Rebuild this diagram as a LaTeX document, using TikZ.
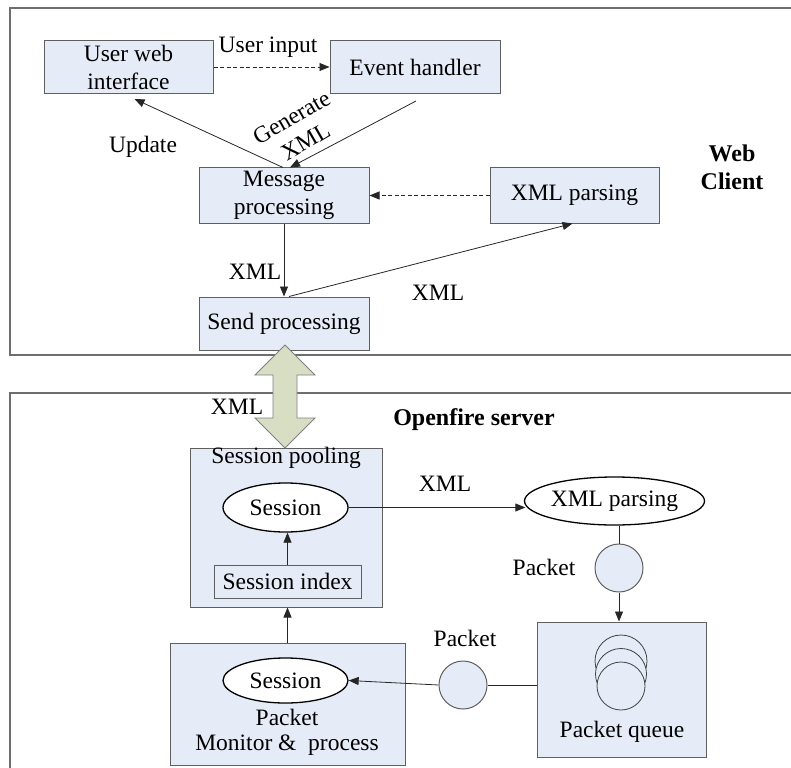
\documentclass[tikz,border=0pt]{standalone}
\usepackage{fontspec}
\setmainfont{Liberation Serif}
\usetikzlibrary{arrows.meta,shapes.geometric,calc}
\definecolor{boxblue}{RGB}{230,236,247}
\definecolor{fatgreen}{RGB}{216,222,196}
\definecolor{edgegray}{RGB}{95,95,95}
\definecolor{framegray}{RGB}{110,110,110}
\begin{document}
\begin{tikzpicture}[x=1pt,y=-1pt,
  font=\fontsize{23.5}{28}\selectfont,
  frame/.style={draw=framegray, line width=1.6pt},
  blk/.style={draw=edgegray, fill=boxblue, line width=1pt, align=center, inner sep=0pt},
  oval/.style={ellipse, draw=black, fill=white, line width=1.3pt, inner sep=0pt},
  pkt/.style={circle, draw=edgegray, fill=boxblue, line width=1pt, inner sep=0pt, minimum size=48pt},
  lbl/.style={inner sep=0pt, align=center},
  bold/.style={inner sep=0pt, align=center, font=\fontsize{24}{28}\selectfont\bfseries},
  arr/.style={draw=black!85, line width=0.8pt, -{Triangle[length=10pt,width=8pt]}},
  ln/.style={draw=black!85, line width=0.8pt},
  dsh/.style={arr, dashed, dash pattern=on 4pt off 2.5pt}
]
\useasboundingbox (0,0) rectangle (791,767);

% outer frames of the two tiers
\draw[frame] (800,8) -- (10,8) -- (10,355) -- (800,355);
\draw[frame] (800,393) -- (10,393) -- (10,780);

% ---------------- web client ----------------
\node[blk, minimum width=169pt, minimum height=53pt] (uwi) at (128.5,67) {User web\\interface};
\node[blk, minimum width=170pt, minimum height=53pt] (evh) at (415,67) {Event handler};
\node[blk, minimum width=170pt, minimum height=55pt] (msg) at (284,195.5) {Message\\processing};
\node[blk, minimum width=169pt, minimum height=55pt] (xpt) at (574.5,195.5) {XML parsing};
\node[blk, minimum width=170pt, minimum height=53pt] (snd) at (284,323.5) {Send processing};
\node[bold] (wc) at (732,167) {Web\\Client};

\draw[dsh] (uwi.east) -- (evh.west);
\node[lbl] (lui) at (268,47) {User input};

\draw[arr] ([xshift=-1pt]msg.north) -- ([xshift=6pt,yshift=-5pt]uwi.south);
\node[lbl] (lup) at (143,147) {Update};

\draw[arr] ([xshift=1pt,yshift=-7pt]evh.south) -- ([xshift=6pt]msg.north);
\node[lbl, rotate=30] (lgx) at (298.5,129.5) {Generate\\XML};

\draw[dsh] (xpt.west) -- (msg.east);

\draw[arr] (msg.south) -- (snd.north);
\node[lbl] (lx1) at (255,272) {XML};

\draw[arr] ([xshift=5pt]snd.north) -- ([xshift=-2pt]xpt.south);
\node[lbl] (lx2) at (438,293) {XML};

% ---------------- server ----------------
\node[bold] (ofs) at (474,420) {Openfire server};

\node[blk, minimum width=192pt, minimum height=159pt,
      label={[lbl, anchor=north, yshift=1pt]north:Session pooling}] (pool) at (286,527.5) {};
\node[oval, minimum width=125pt, minimum height=49pt] (ses1) at (285.5,507.5) {Session};
\node[blk, minimum width=147pt, minimum height=33pt] (sidx) at (287.5,581.5) {Session index};
\draw[arr] (sidx.north) -- (sidx.north |- ses1.south);

\node[blk, minimum width=235pt, minimum height=122pt] (pmp) at (287.5,704) {};
\node[oval, minimum width=125pt, minimum height=45pt] (ses2) at (285.5,680.5) {Session};
\node[lbl] (pmt1) at (287,717) {Packet};
\node[lbl] (pmt2) at (287,745) {Monitor \&\ \ process};
\draw[arr] (pmp.north) -- (pmp.north |- pool.south);

\node[oval, minimum width=157pt, minimum height=48pt] (xpo) at (614.5,501) {XML parsing};
\draw[arr] (ses1.east) -- ($(ses1.east -| xpo.west)+(1.5,0)$);
\node[lbl] (lx3) at (445,484) {XML};

\node[pkt] (pk1) at (619,568) {};
\node[lbl] (lp1) at (544,567) {Packet};
\draw[ln] (pk1.north) -- (pk1.north |- xpo.south);

\node[blk, minimum width=169pt, minimum height=135pt] (pq) at (621.5,689.5) {};
\node[lbl] (pql) at (622,732) {Packet queue};
\draw[arr] (pk1.south) -- (pk1.south |- pq.north);

% stacked packets inside the queue
\node[pkt, minimum size=52pt, line width=0.8pt, draw=black!75] (q3) at (621,661) {};
\node[pkt, minimum size=51pt, line width=0.8pt, draw=black!75] (q2) at (621,674) {};
\node[pkt, line width=0.8pt, draw=black!75] (q1) at (621,686) {};

\node[pkt] (pk2) at (463,685) {};
\node[lbl] (lp2) at (465,638) {Packet};
\draw[ln] (pk2.east) -- (pk2.east -| pq.west);
\draw[arr] (pk2.west) -- (ses2.east);

% fat two-way XML channel
\draw[draw=black!50, fill=fatgreen, line width=0.9pt]
  (285,345) -- (315,375) -- (297,375) -- (297,418) -- (315,418) -- (285,448)
  -- (255,418) -- (273,418) -- (273,375) -- (255,375) -- cycle;
\node[lbl] (lx4) at (237,407) {XML};
\end{tikzpicture}
\end{document}
